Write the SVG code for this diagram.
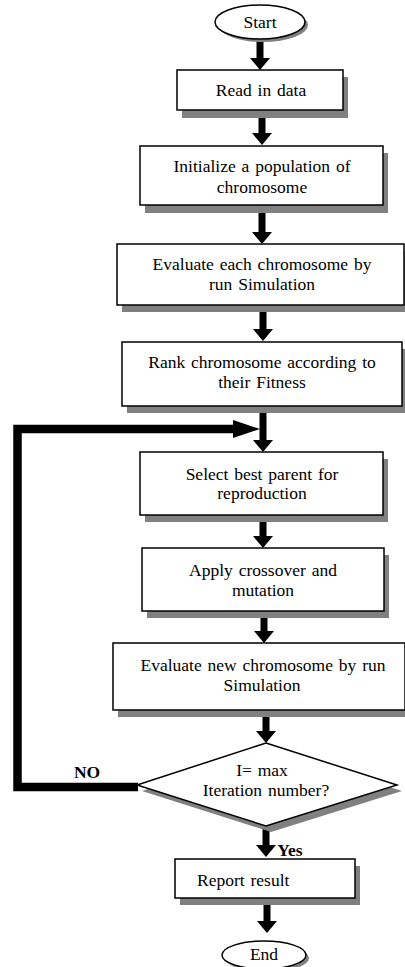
<svg xmlns="http://www.w3.org/2000/svg" width="405" height="967" viewBox="0 0 405 967">
<style>
.sh{fill:#808080;stroke:none}
.bx{fill:#fff;stroke:#000;stroke-width:1.5}
.t{font-family:'Liberation Serif','Times New Roman',serif;font-size:17.5px;word-spacing:1.5px;fill:#000;text-anchor:middle}
.b{font-weight:bold}
.c{fill:none;stroke:#000;stroke-width:7}
.loop{fill:none;stroke:#000;stroke-width:8.5;stroke-linejoin:miter}
</style>
<defs>
<marker id="ah" markerUnits="userSpaceOnUse" markerWidth="22" markerHeight="22" refX="0" refY="10" orient="auto">
<path d="M0,0 L12,10 L0,20 Z" fill="#000"/>
</marker>
<marker id="ahl" markerUnits="userSpaceOnUse" markerWidth="30" markerHeight="22" refX="0" refY="9" orient="auto">
<path d="M0,0 L27,9 L0,18 Z" fill="#000"/>
</marker>
</defs>
<g id="connectors">
<line class="c" x1="260" y1="40" x2="260" y2="58" marker-end="url(#ah)"/>
<line class="c" x1="262" y1="118" x2="262" y2="133" marker-end="url(#ah)"/>
<line class="c" x1="262" y1="213" x2="262" y2="232" marker-end="url(#ah)"/>
<line class="c" x1="263" y1="312" x2="263" y2="329" marker-end="url(#ah)"/>
<line class="c" x1="263" y1="407" x2="263" y2="440" marker-end="url(#ah)"/>
<line class="c" x1="263" y1="522" x2="263" y2="536" marker-end="url(#ah)"/>
<line class="c" x1="264" y1="618" x2="264" y2="631" marker-end="url(#ah)"/>
<line class="c" x1="266" y1="717" x2="266" y2="731" marker-end="url(#ah)"/>
<line class="c" x1="266" y1="825" x2="266" y2="845" marker-end="url(#ah)"/>
<line class="c" x1="267" y1="905" x2="267" y2="921" marker-end="url(#ah)"/>
<polyline class="loop" points="138,787 17.5,787 17.5,429 233,429" marker-end="url(#ahl)"/>
<text class="t b" x="87" y="778">NO</text>
<text class="t b" x="290" y="856">Yes</text>
</g>
<g id="start">
<ellipse class="sh" cx="263" cy="25" rx="45" ry="17"/>
<ellipse class="bx" cx="260" cy="22" rx="45" ry="17"/>
<text class="t" x="260" y="28">Start</text>
</g>
<g id="read">
<rect class="sh" x="182" y="77" width="166" height="41"/>
<rect class="bx" x="177" y="70" width="166" height="40"/>
<text class="t" x="261" y="96">Read in data</text>
</g>
<g id="init">
<rect class="sh" x="145" y="153" width="243" height="60"/>
<rect class="bx" x="140" y="146" width="243" height="59"/>
<text class="t" x="262" y="172">Initialize a population  of</text>
<text class="t" x="262" y="193">chromosome</text>
</g>
<g id="eval">
<rect class="sh" x="122" y="251" width="287" height="61"/>
<rect class="bx" x="117" y="244" width="287" height="61"/>
<text class="t" x="262" y="270">Evaluate each chromosome by</text>
<text class="t" x="262" y="290">run Simulation</text>
</g>
<g id="rank">
<rect class="sh" x="127" y="349" width="280" height="64"/>
<rect class="bx" x="122" y="342" width="280" height="64"/>
<text class="t" x="262" y="368">Rank chromosome  according to</text>
<text class="t" x="262" y="388">their Fitness</text>
</g>
<g id="select">
<rect class="sh" x="145" y="459" width="243" height="63"/>
<rect class="bx" x="140" y="452" width="243" height="63"/>
<text class="t" x="262" y="480">Select best parent  for</text>
<text class="t" x="262" y="499">reproduction</text>
</g>
<g id="apply">
<rect class="sh" x="147" y="555" width="242" height="63"/>
<rect class="bx" x="142" y="548" width="242" height="63"/>
<text class="t" x="263" y="576">Apply crossover and</text>
<text class="t" x="263" y="596">mutation</text>
</g>
<g id="evalnew">
<rect class="sh" x="118" y="650" width="292" height="67"/>
<rect class="bx" x="113" y="643" width="292" height="67"/>
<text class="t" x="263" y="671">Evaluate new chromosome by run</text>
<text class="t" x="262" y="691">Simulation</text>
</g>
<g id="decision">
<polygon class="sh" points="271,749 402,791 271,832 142,791"/>
<polygon class="bx" points="266,743 397,785 266,826 137,785"/>
<text class="t" x="262" y="776">I= max</text>
<text class="t" x="266" y="796">Iteration number?</text>
</g>
<g id="report">
<rect class="sh" x="180" y="866" width="180" height="39"/>
<rect class="bx" x="175" y="859" width="180" height="39"/>
<text class="t" x="197" y="886" style="text-anchor:start">Report result</text>
</g>
<g id="end">
<ellipse class="sh" cx="267" cy="958" rx="42" ry="14"/>
<ellipse class="bx" cx="264" cy="955" rx="42" ry="14"/>
<text class="t" x="264" y="960">End</text>
</g>
</svg>
